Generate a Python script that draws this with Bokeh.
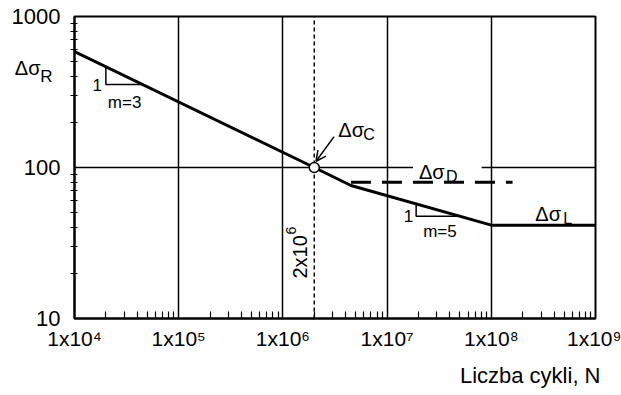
import numpy as np
from bokeh.plotting import figure
from bokeh.models import FixedTicker, Label, Arrow, OpenHead, Title, LogAxis
from bokeh.embed import file_html
from bokeh.resources import INLINE

# ---------------- data ----------------
CURVE_N = [1e4, 2e6, 4.5e6, 1e8, 1e9]          # number of cycles
CURVE_S = [585, 100, 76, 41.5, 41.5]            # stress range
POINT_C_N = 2e6                                 # detail category point
POINT_C_S = 100
DASH_N = [4.5e6, 1.6e8]                         # dashed level
DASH_S = [80, 80]
SLOPE1_N = [2e4, 4.5e4]                         # slope triangle m=3
SLOPE2_N = [1.9e7, 5e7]                         # slope triangle m=5

X_TICKS = [1e4, 1e5, 1e6, 1e7, 1e8, 1e9]
X_TICK_LABELS = ["1x10⁴", "1x10⁵", "1x10⁶", "1x10⁷", "1x10⁸", "1x10⁹"]
X_MINOR = [m * d for d in [1e4, 1e5, 1e6, 1e7, 1e8] for m in range(2, 10)]
X_GRID = [1e5, 1e6, 1e7, 1e8]
Y_TICKS = [10, 100, 1000]
Y_TICK_LABELS = ["10", "100", "1000"]
Y_MINOR = [m * d for d in [10, 100] for m in range(2, 10)]
Y_GRID = [100]
X_TITLE = "Liczba cykli, N"
# the "Δσ_R" marker on the stress axis (main text and subscript)
R_MAIN_AT, R_MAIN_TEXT = 458, "Δσ"
R_SUB_AT, R_SUB_TEXT = 398, "R"

FONT = "Liberation Sans"

# ---------------- figure ----------------
p = figure(width=621, height=395, x_axis_type="log", y_axis_type="log",
           x_range=(X_TICKS[0], X_TICKS[-1]), y_range=(Y_TICKS[0], Y_TICKS[-1]),
           output_backend="svg", toolbar_location=None,
           min_border_left=74, min_border_right=26, min_border_top=16, min_border_bottom=72)
p.background_fill_color = "white"
p.border_fill_color = "white"
p.outline_line_color = "black"
p.outline_line_width = 2

# axes
p.xaxis.ticker = FixedTicker(ticks=X_TICKS, minor_ticks=X_MINOR)
p.xaxis.major_label_overrides = {t: l for t, l in zip(X_TICKS, X_TICK_LABELS)}
p.yaxis.ticker = FixedTicker(ticks=Y_TICKS, minor_ticks=Y_MINOR)
p.yaxis.major_label_overrides = {t: l for t, l in zip(Y_TICKS, Y_TICK_LABELS)}
for ax in (p.xaxis, p.yaxis):
    ax.axis_line_color = "black"
    ax.axis_line_width = 2
    ax.major_tick_in = 0
    ax.major_tick_out = 0
    ax.minor_tick_line_color = "black"
    ax.minor_tick_line_width = 1.2
    ax.major_label_text_font = FONT
    ax.major_label_text_font_size = "22px"
    ax.major_label_text_color = "black"
p.xaxis.major_label_text_font_size = "21px"
p.xaxis.major_label_standoff = 8
p.xaxis.minor_tick_in = 7
p.xaxis.minor_tick_out = 0
p.yaxis.minor_tick_in = 3
p.yaxis.minor_tick_out = 4
p.yaxis.major_label_standoff = 10

# extra stress-axis labels for Δσ_R (outer left axes, no lines/ticks)
def text_axis(at, text, size, standoff):
    ax = LogAxis(ticker=FixedTicker(ticks=[at], minor_ticks=[]),
                 major_label_overrides={at: text}, major_label_standoff=standoff,
                 axis_line_color=None, major_tick_line_color=None, minor_tick_line_color=None,
                 major_tick_in=0, major_tick_out=0, minor_tick_in=0, minor_tick_out=0,
                 major_label_text_font=FONT, major_label_text_font_size=f"{size}px",
                 major_label_text_color="black")
    p.add_layout(ax, "left")
text_axis(R_MAIN_AT, R_MAIN_TEXT, 20, -32)
text_axis(R_SUB_AT, R_SUB_TEXT, 17, -44)

# grid
p.xgrid.ticker = FixedTicker(ticks=X_GRID)
p.ygrid.ticker = FixedTicker(ticks=Y_GRID)
for g in (p.xgrid, p.ygrid):
    g.grid_line_color = "black"
    g.grid_line_alpha = 1
    g.grid_line_width = 1.5

# helper: curve value at N (log interpolation on the read curve)
lnN = np.log10(CURVE_N)
lnS = np.log10(CURVE_S)
def s_at(n):
    return 10 ** np.interp(np.log10(n), lnN, lnS)

# vertical dashed line at N_C
p.line([POINT_C_N, POINT_C_N], [Y_TICKS[0], Y_TICKS[-1]], line_color="black",
       line_width=1.5, line_dash="4 3")

# dashed level
p.line(DASH_N, DASH_S, line_color="black", line_width=3, line_dash="20 11")

# main S-N curve
p.line(CURVE_N, CURVE_S, line_color="black", line_width=3)

# slope triangles
for sn in (SLOPE1_N, SLOPE2_N):
    s1, s2 = s_at(sn[0]), s_at(sn[1])
    p.line([sn[0], sn[0], sn[1]], [s1, s2, s2], line_color="black", line_width=1.5)

# point C
p.scatter([POINT_C_N], [POINT_C_S], size=10, marker="circle", fill_color="white",
          line_color="black", line_width=1.5)

def lab(x, y, text, dx, dy, size, align="left", angle=0.0, bg=None, pad=None, level="annotation"):
    kw = {}
    if bg is not None:
        kw["background_fill_color"] = bg
    if pad is not None:
        kw["padding"] = pad
    if angle:
        kw["angle"] = angle
    p.add_layout(Label(x=x, y=y, text=text, x_offset=dx, y_offset=dy, level=level,
                       text_font=FONT, text_font_size=f"{size}px", text_color="black",
                       text_align=align, text_baseline="alphabetic", **kw))

# x title
p.add_layout(Title(text=X_TITLE, align="right", text_font=FONT, text_font_size="22px",
                   text_font_style="normal", text_color="black", offset=-5, standoff=16), "below")

# delta sigma C with arrow
lab(POINT_C_N, POINT_C_S, "Δσ", 24, 38, 20)
lab(POINT_C_N, POINT_C_S, "C", 49, 33, 16)
p.add_layout(Arrow(end=OpenHead(size=10, line_width=1.5, line_color="black"),
                   x_start=POINT_C_N * 1.55, y_start=POINT_C_S * 1.6,
                   x_end=POINT_C_N * 1.04, y_end=POINT_C_S * 1.1,
                   line_width=1.5, line_color="black"))

# delta sigma D (interrupting the 100 line; drawn beneath the glyphs)
lab(CURVE_N[2], POINT_C_S, "Δσ", 62, -4, 20, bg="white",
    pad=dict(left=6, right=37, top=0, bottom=0), level="underlay")
lab(CURVE_N[2], POINT_C_S, "D", 95, -9, 16)

# delta sigma L
lab(CURVE_N[3], CURVE_S[3], "Δσ", 44, 11, 20)
lab(CURVE_N[3], CURVE_S[3], "L", 72, 7, 16)

# slope labels
s12 = s_at(SLOPE1_N[1])
lab(SLOPE1_N[0], s12, "1", -4, 0, 17, align="right")
lab(SLOPE1_N[0], s12, "m=3", 2, -18, 17)
s22 = s_at(SLOPE2_N[1])
lab(SLOPE2_N[0], s22, "1", -3, 0, 17, align="right")
lab(SLOPE2_N[0], s22, "m=5", 7, -15, 17)

# 2x10^6 rotated
lab(POINT_C_N, Y_TICKS[0], "2x10", -14, 40, 20, angle=np.pi / 2)
lab(POINT_C_N, Y_TICKS[0], "6", -23, 84, 14, angle=np.pi / 2)

open("out.html", "w").write(file_html(p, INLINE))
